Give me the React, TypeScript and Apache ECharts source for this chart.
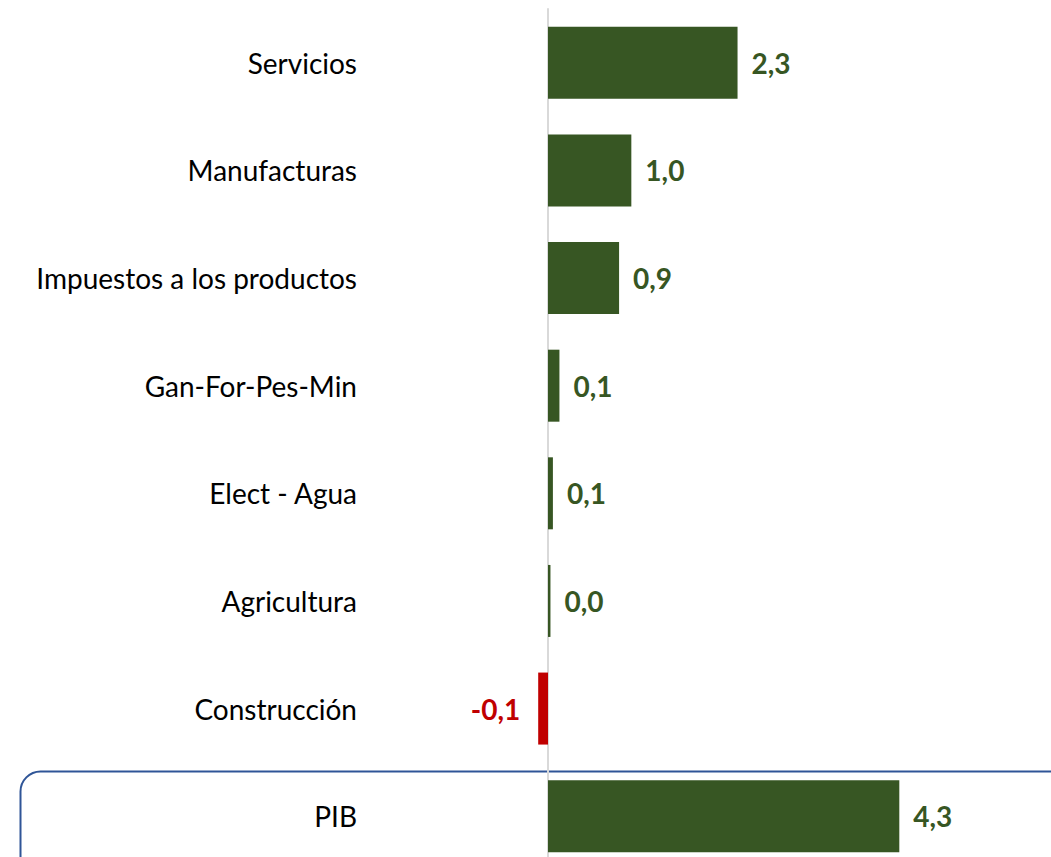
import React, { useEffect, useRef } from "react";
import * as echarts from "echarts";

const categories = [
  "Servicios",
  "Manufacturas",
  "Impuestos a los productos",
  "Gan-For-Pes-Min",
  "Elect - Agua",
  "Agricultura",
  "Construcción",
  "PIB",
];
const values = [2.32, 1.02, 0.87, 0.14, 0.06, 0.03, -0.12, 4.3];

const GREEN = "#375623";
const RED = "#c00000";

const fmt = (v: number) => v.toFixed(1).replace(".", ",");

export default function App() {
  const ref = useRef<HTMLDivElement>(null);
  useEffect(() => {
    if (!ref.current) return;
    const chart = echarts.init(ref.current, undefined, { renderer: "svg" });
    const scale = 81.7;
    const zeroX = 548;
    const xMin = -1;
    const xMax = 5;
    const left = zeroX + xMin * scale;
    const width = (xMax - xMin) * scale;
    chart.setOption({
      animation: false,
      backgroundColor: "#ffffff",
      grid: {
        left,
        width,
        top: 9,
        bottom: 0,
        containLabel: false,
        outerBoundsMode: "none",
      },
      xAxis: {
        type: "value",
        min: xMin,
        max: xMax,
        show: false,
        splitLine: { show: false },
      },
      yAxis: {
        type: "category",
        data: categories,
        inverse: true,
        axisTick: { show: false },
        axisLine: { show: true, onZero: true, lineStyle: { color: "#d9d9d9", width: 2 } },
        axisLabel: {
          margin: left - 357,
          fontSize: 28,
          color: "#000000",
          fontFamily: "Lato",
        },
      },
      series: [
        {
          type: "bar",
          barWidth: 72,
          data: values.map((v) => ({
            value: v,
            itemStyle: { color: v < 0 ? RED : GREEN },
            label: {
              show: true,
              position: v < 0 ? "left" : "right",
              distance: v < 0 ? 18 : 14,
              formatter: () => fmt(v),
              color: v < 0 ? RED : GREEN,
              fontSize: 28,
              fontWeight: "bold",
              fontFamily: "Lato",
            },
          })),
        },
      ],
      graphic: [
        {
          type: "rect",
          left: 18,
          top: 769,
          shape: { width: 1060, height: 120, r: 20 },
          style: { fill: "none", stroke: "#2f5597", lineWidth: 2 },
          z: -1,
        },
      ],
    });
    return () => chart.dispose();
  }, []);
  return (
    <div
      ref={ref}
      style={{ position: "fixed", left: 0, top: 0, width: 1051, height: 870 }}
    />
  );
}
